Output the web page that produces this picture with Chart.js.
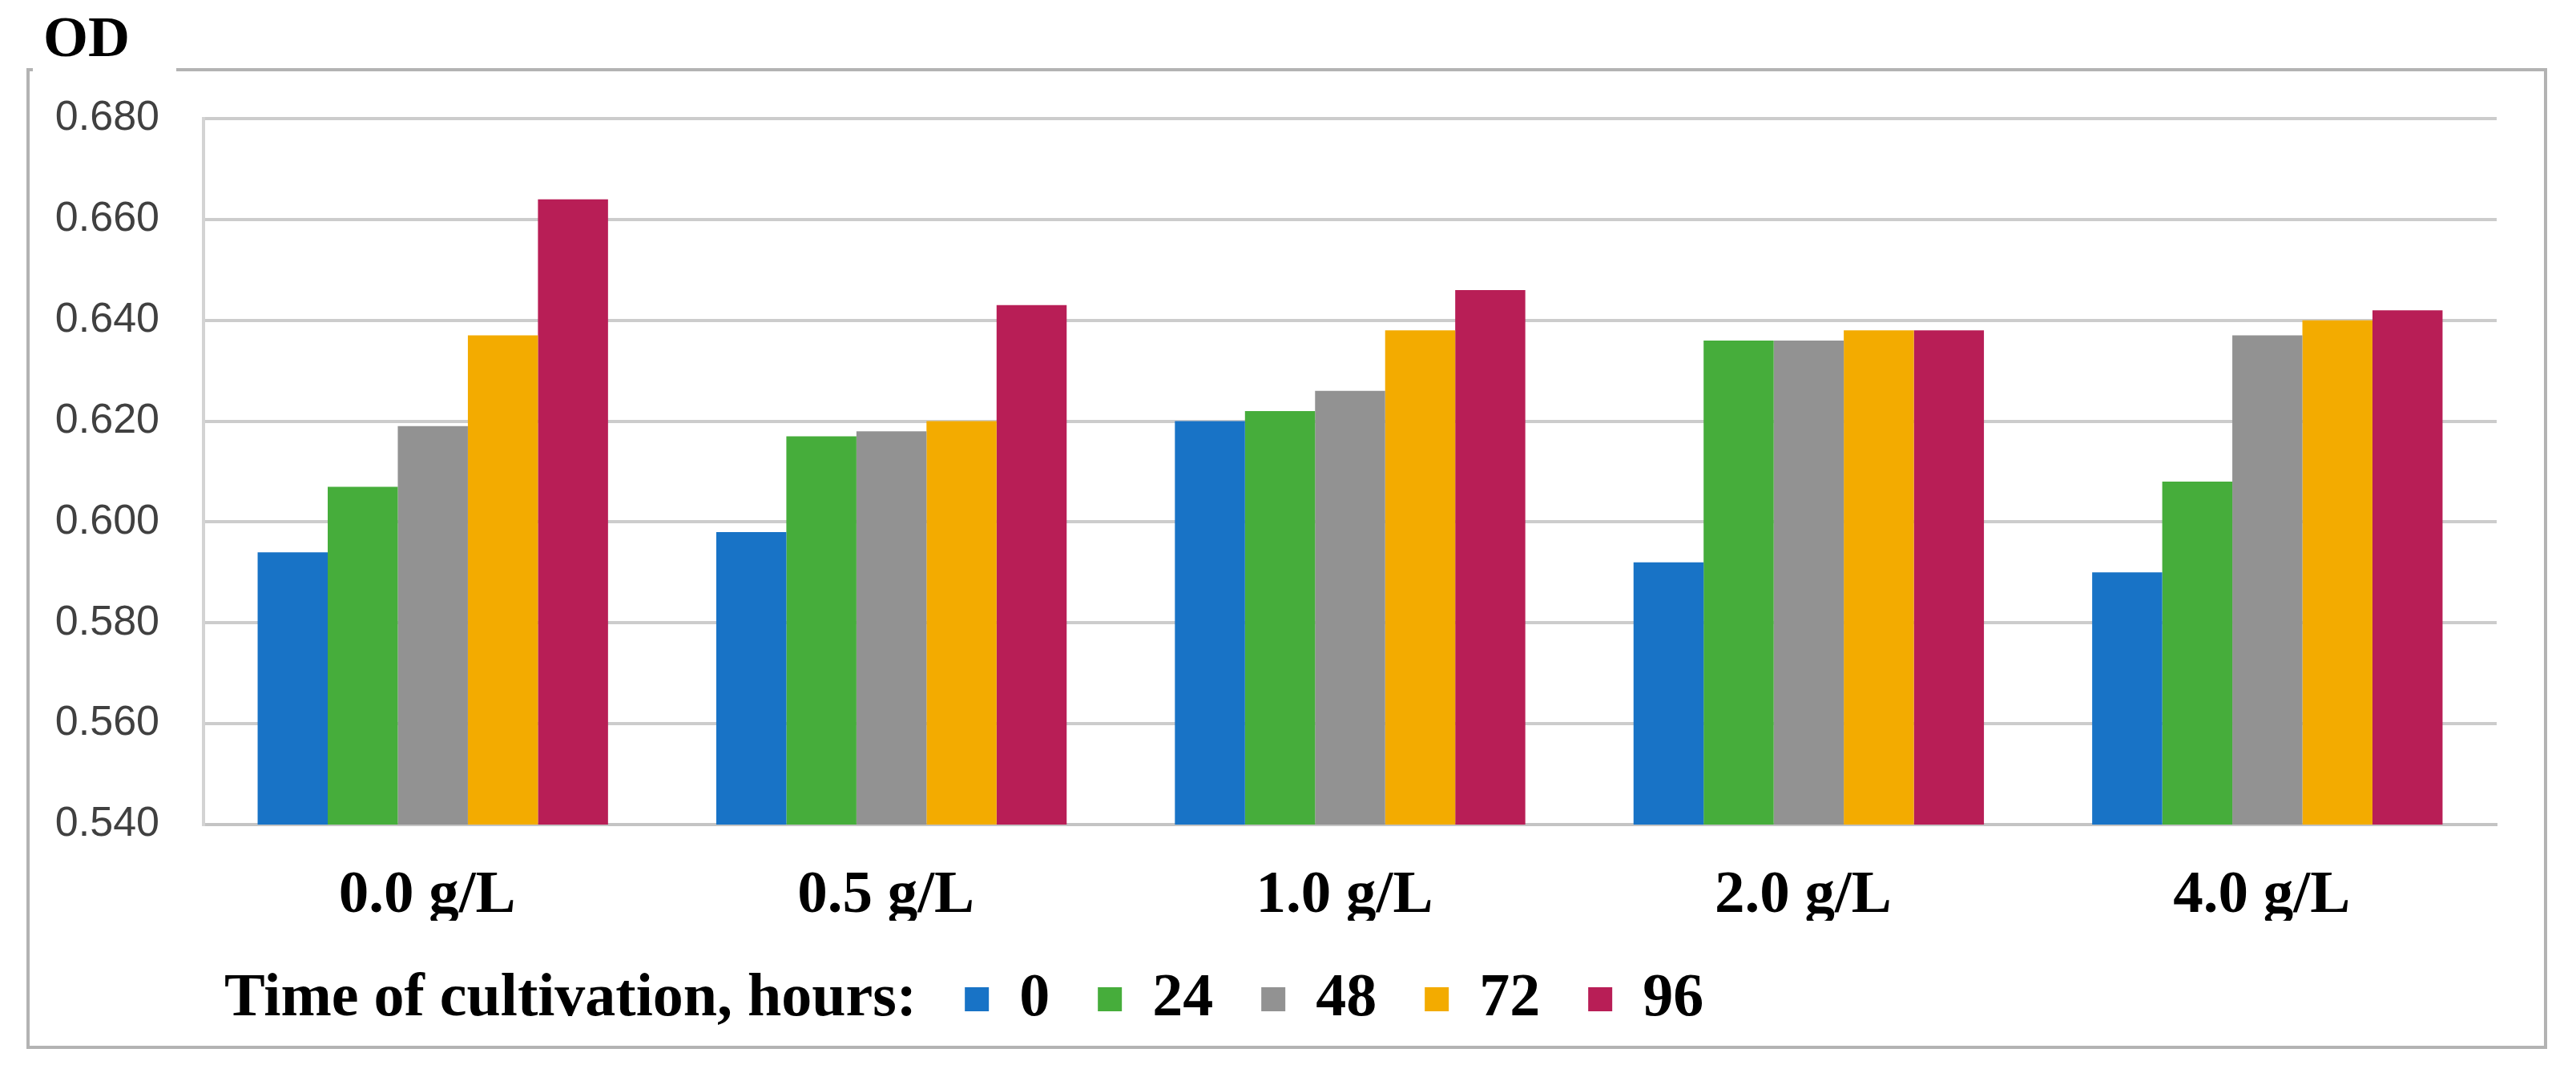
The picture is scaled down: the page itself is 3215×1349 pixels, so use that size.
<!DOCTYPE html>
<html>
<head>
<meta charset="utf-8">
<script src="https://cdn.jsdelivr.net/npm/chart.js@4.4.1/dist/chart.umd.min.js"></script>
<style>
  html, body { margin: 0; padding: 0; background: #ffffff; }
  #wrap { position: relative; width: 3215px; height: 1349px; }
  canvas { display: block; }
</style>
</head>
<body>
<div id="wrap"><canvas id="c" width="3215" height="1349"></canvas></div>
<script>
// ---- Data ----
const categories = ['0.0 g/L', '0.5 g/L', '1.0 g/L', '2.0 g/L', '4.0 g/L'];
const seriesLabels = ['0', '24', '48', '72', '96'];
const od0h  = [0.594, 0.598, 0.620, 0.592, 0.590];
const od24h = [0.607, 0.617, 0.622, 0.636, 0.608];
const od48h = [0.619, 0.618, 0.626, 0.636, 0.637];
const od72h = [0.637, 0.620, 0.638, 0.638, 0.640];
const od96h = [0.664, 0.643, 0.646, 0.638, 0.642];
const yMin = 0.540, yMax = 0.680, yStep = 0.020;
const yAxisTitle = 'OD';
const legendTitle = 'Time of cultivation, hours:';

const seriesColors = ['#1873C6', '#46AD3B', '#929292', '#F3AB00', '#B81E56'];
const seriesValues = [od0h, od24h, od48h, od72h, od96h];

const datasets = seriesValues.map((vals, i) => ({
  label: seriesLabels[i],
  data: vals,
  backgroundColor: seriesColors[i],
  borderWidth: 0
}));

// outer frame with a gap where "OD" sits
const framePlugin = {
  id: 'frame',
  beforeDraw(chart) {
    const ctx = chart.ctx;
    ctx.save();
    ctx.strokeStyle = '#b3b3b3';
    ctx.lineWidth = 4;
    ctx.beginPath();
    ctx.moveTo(220, 87); ctx.lineTo(3177, 87);
    ctx.lineTo(3177, 1307); ctx.lineTo(35, 1307);
    ctx.lineTo(35, 87); ctx.lineTo(41, 87);
    ctx.stroke();
    ctx.restore();
  }
};

// shift the legend row so the caption starts under the plot like the original
const legendShift = {
  id: 'legendShift',
  afterLayout(chart) {
    const lg = chart.legend;
    if (lg) { lg.left += 98; lg.right += 98; }
  }
};

Chart.defaults.animation = false;

new Chart(document.getElementById('c'), {
  type: 'bar',
  data: { labels: categories, datasets },
  options: {
    responsive: false,
    animation: false,
    layout: { padding: { left: 54, top: 0, right: 99, bottom: 54 } },
    datasets: { bar: { categoryPercentage: 0.764, barPercentage: 1.0 } },
    plugins: {
      title: {
        display: true,
        text: yAxisTitle,
        align: 'start',
        color: '#000000',
        font: { family: 'Liberation Serif', size: 72, weight: 'bold', lineHeight: 1.2 },
        padding: { top: 8, bottom: 53.6 }
      },
      legend: {
        display: true,
        position: 'bottom',
        align: 'start',
        labels: {
          color: '#000000',
          font: { family: 'Liberation Serif', size: 76, weight: 'bold' },
          boxWidth: 30,
          boxHeight: 30,
          padding: 60,
          generateLabels(chart) {
            const items = Chart.defaults.plugins.legend.labels.generateLabels(chart);
            items.unshift({
              text: legendTitle,
              fillStyle: 'rgba(0,0,0,0)',
              strokeStyle: 'rgba(0,0,0,0)',
              lineWidth: 0,
              hidden: false,
              fontColor: '#000000',
              datasetIndex: -1
            });
            return items;
          }
        }
      },
      tooltip: { enabled: false }
    },
    scales: {
      x: {
        grid: { display: false, drawTicks: false },
        border: { display: true, color: '#c4c4c4', width: 4 },
        ticks: {
          color: '#000000',
          font: { family: 'Liberation Serif', size: 75, weight: 'bold', lineHeight: 1.2 },
          padding: 44.5,
          labelOffset: -7,
          maxRotation: 0
        },
        afterFit(scale) { scale.height = 120; }
      },
      y: {
        min: yMin,
        max: yMax,
        grid: { color: '#cccccc', lineWidth: 4, drawTicks: false },
        border: { display: true, color: '#d3d3d3', width: 4 },
        ticks: {
          stepSize: yStep,
          color: '#404040',
          font: { family: 'Liberation Sans', size: 52 },
          padding: 55,
          callback: (v) => Number(v).toFixed(3)
        },
        afterFit(scale) { scale.width = 200; }
      }
    }
  },
  plugins: [framePlugin, legendShift]
});
</script>
</body>
</html>
